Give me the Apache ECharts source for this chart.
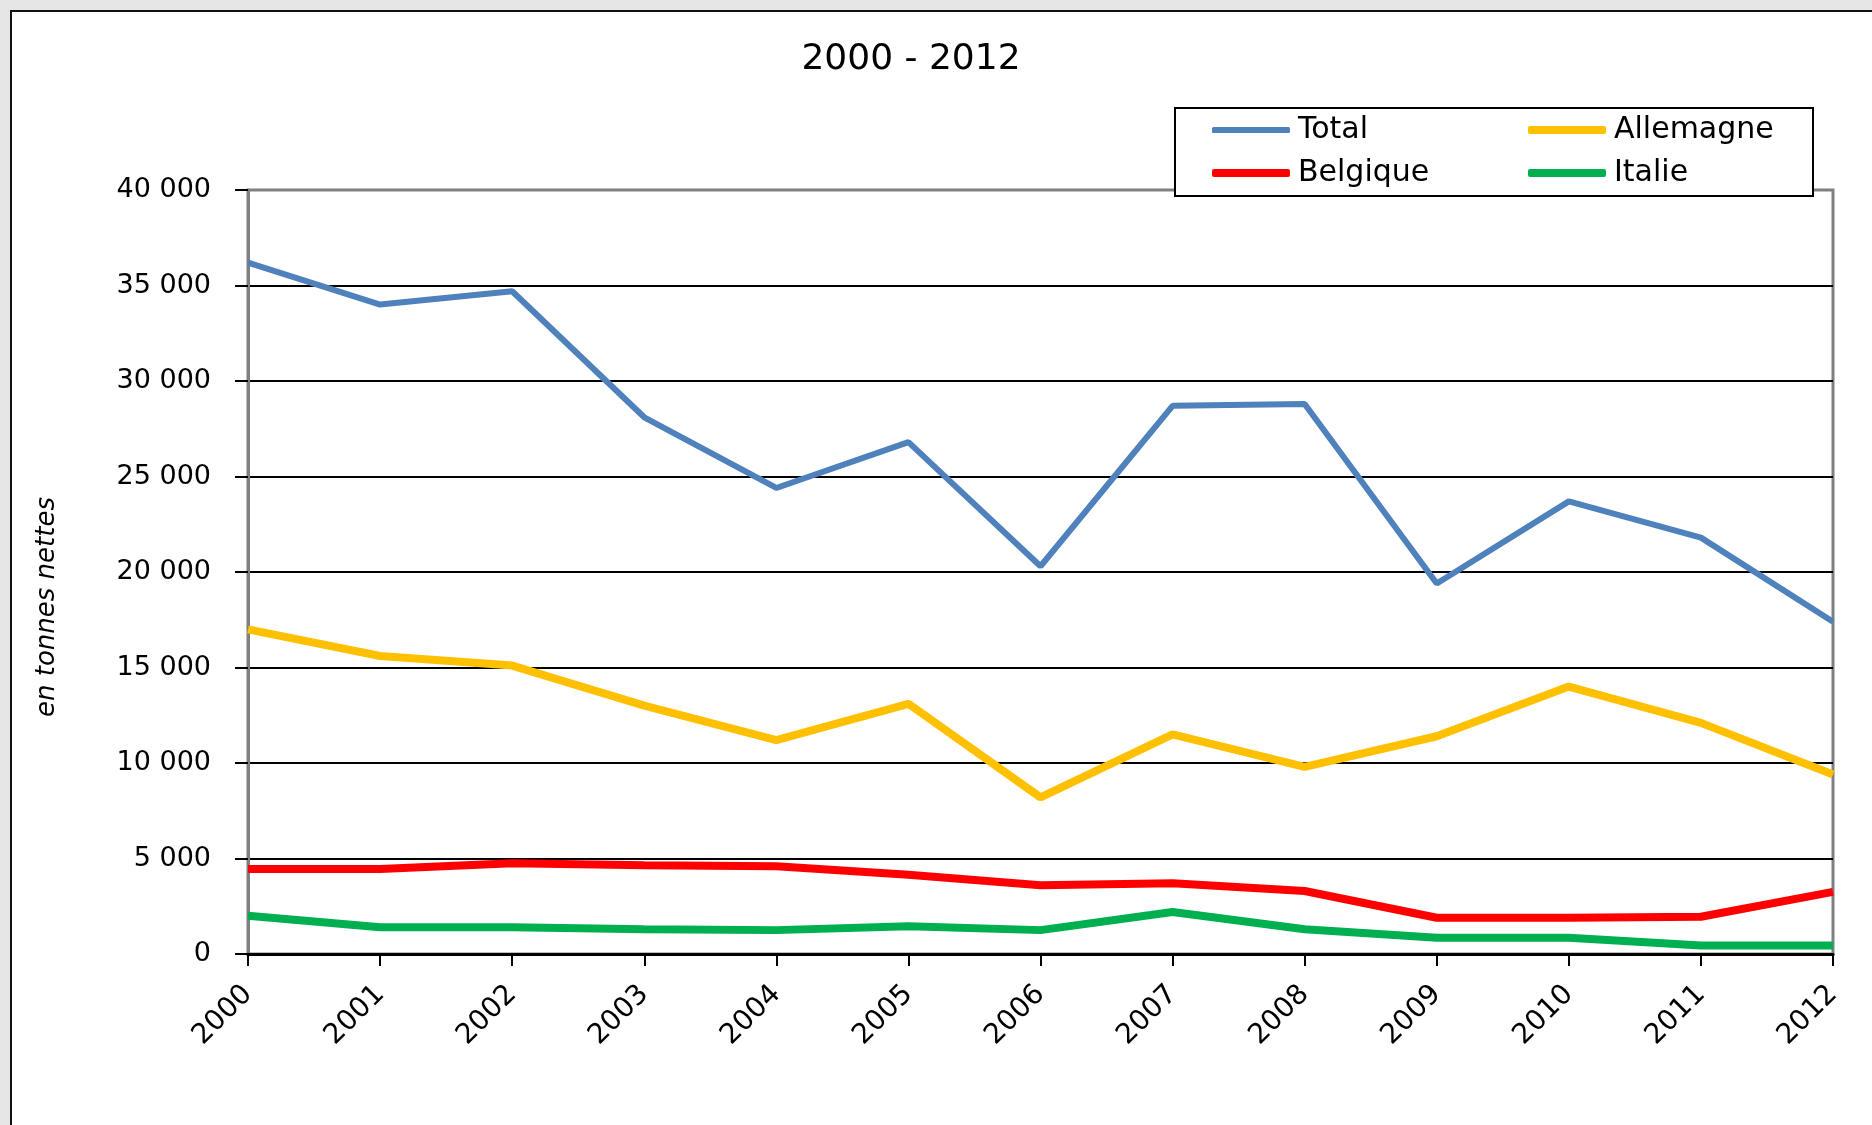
<!DOCTYPE html>
<html>
<head>
<meta charset="utf-8">
<script src="https://cdn.jsdelivr.net/npm/echarts@6/dist/echarts.min.js"></script>
<style>
  html, body { margin: 0; padding: 0; background: #e6e6e6; }
  #chart { width: 1872px; height: 1125px; }
</style>
</head>
<body>
<div id="chart"></div>
<script>
// years on the x axis
var years = ["2000", "2001", "2002", "2003", "2004", "2005", "2006",
  "2007", "2008", "2009", "2010", "2011", "2012"];

// en tonnes nettes
var total = [36200, 34000, 34700, 28100, 24400, 26800, 20300,
  28700, 28800, 19400, 23700, 21800, 17400];
var allemagne = [17000, 15600, 15100, 13000, 11200, 13100, 8200,
  11500, 9800, 11400, 14000, 12100, 9400];
var belgique = [4450, 4450, 4750, 4650, 4600, 4150, 3600,
  3700, 3300, 1900, 1900, 1950, 3250];
var italie = [2000, 1400, 1400, 1300, 1250, 1450, 1250,
  2200, 1300, 850, 850, 450, 450];

var FONT = "DejaVu Sans";

function fmt(v) {
  return String(v).replace(/\B(?=(\d{3})+(?!\d))/g, " ");
}

function legendAt(name, left, top, h) {
  return {
    data: [name],
    left: left,
    top: top,
    orient: "horizontal",
    padding: 0,
    itemWidth: 78,
    itemHeight: h,
    icon: "roundRect",
    z: 20,
    textStyle: { fontFamily: FONT, fontSize: 30, color: "#000", lineHeight: 30, padding: [0, 0, 0, 3] }
  };
}

var myChart = echarts.init(document.getElementById("chart"));
myChart.setOption({
  backgroundColor: "#e6e6e6",
  animation: false,
  title: {
    text: "2000 - 2012",
    left: 906,
    textAlign: "center",
    top: 35,
    textStyle: { fontFamily: FONT, fontSize: 36, fontWeight: "normal", color: "#000", lineHeight: 40 }
  },
  graphic: [
    {
      type: "rect",
      z: -10,
      shape: { x: 11, y: 11, width: 1900, height: 1200 },
      style: { fill: "#fff", stroke: "#111", lineWidth: 2 }
    },
    {
      type: "rect",
      z: 10,
      shape: { x: 1175, y: 108, width: 638, height: 88 },
      style: { fill: "#fff", stroke: "#000", lineWidth: 2 }
    },
    {
      type: "text",
      x: 47,
      y: 607,
      rotation: Math.PI / 2,
      style: {
        text: "en tonnes nettes",
        fontFamily: FONT,
        fontSize: 26,
        fontStyle: "italic",
        fill: "#000",
        align: "center",
        verticalAlign: "middle"
      }
    }
  ],
  legend: [
    legendAt("Total", 1212, 115, 6),
    legendAt("Allemagne", 1528, 115, 8),
    legendAt("Belgique", 1212, 158, 8),
    legendAt("Italie", 1528, 158, 8)
  ],
  grid: {
    left: 248,
    right: 39,
    top: 190,
    bottom: 171,
    show: true,
    backgroundColor: "transparent",
    borderColor: "#808080",
    borderWidth: 3
  },
  xAxis: {
    type: "category",
    data: years,
    boundaryGap: false,
    axisLine: { lineStyle: { color: "#000", width: 3 } },
    axisTick: { show: true, length: 12, lineStyle: { color: "#000", width: 2 } },
    axisLabel: {
      rotate: 45,
      margin: 36,
      interval: 0,
      fontFamily: FONT,
      fontSize: 28,
      color: "#000"
    },
    splitLine: { show: false }
  },
  yAxis: {
    type: "value",
    min: 0,
    max: 40000,
    interval: 5000,
    axisLine: { show: true, lineStyle: { color: "#808080", width: 3 } },
    axisTick: { show: true, length: 13, lineStyle: { color: "#000", width: 2 } },
    axisLabel: {
      margin: 37,
      fontFamily: FONT,
      fontSize: 27,
      color: "#000",
      formatter: fmt
    },
    splitLine: {
      show: true,
      lineStyle: {
        color: ["#000", "#000", "#000", "#000", "#000", "#000", "#000", "#000", "#808080"],
        width: 2
      }
    }
  },
  series: [
    {
      name: "Total",
      type: "line",
      data: total,
      symbol: "none",
      color: "#4F81BD",
      lineStyle: { width: 6, color: "#4F81BD" }
    },
    {
      name: "Allemagne",
      type: "line",
      data: allemagne,
      symbol: "none",
      color: "#FFC000",
      lineStyle: { width: 8, color: "#FFC000" }
    },
    {
      name: "Belgique",
      type: "line",
      data: belgique,
      symbol: "none",
      color: "#FF0000",
      lineStyle: { width: 8, color: "#FF0000" }
    },
    {
      name: "Italie",
      type: "line",
      data: italie,
      symbol: "none",
      color: "#00B050",
      lineStyle: { width: 8, color: "#00B050" }
    }
  ]
});
</script>
</body>
</html>
